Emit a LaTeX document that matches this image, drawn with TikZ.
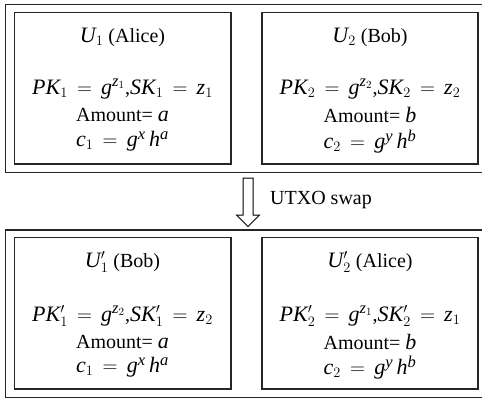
\documentclass[tikz,border=0pt]{standalone}
\usepackage{fontspec}
\setmainfont{Liberation Serif}
\newfontfamily\mathletters[NFSSFamily=mathlib,Scale=1.1]{Liberation Serif}
\DeclareSymbolFont{letters}{TU}{mathlib}{m}{it}
\DeclareSymbolFont{operators}{TU}{\rmdefault}{m}{n}
\DeclareMathSizes{20}{20}{15}{11}
\thickmuskip=8mu plus 2mu
\begin{document}
\begin{tikzpicture}[x=1pt,y=-1pt,
  outerbox/.style={draw=black!85,line width=1.6pt},
  innerbox/.style={draw=black!85,line width=1.3pt},
  txt/.style={inner sep=0pt,font=\fontsize{20}{23}\selectfont}]
\useasboundingbox (0,0) rectangle (482,399);
% top group
\draw[outerbox] (5.5,4.5) rectangle (486,172.5);
\draw[innerbox] (14.5,12.5) rectangle (231,164);
\draw[innerbox] (262,12.5) rectangle (478,164);
\node[txt] (t1) at (122.5,37) {$U_1$ (Alice)};
\node[txt] (p1) at (122.5,89) {$PK_1=g^{z_1}$,$SK_1=z_1$};
\node[txt] (a1) at (122.5,115) {Amount= $a$};
\node[txt] (c1) at (122.5,141.5) {$c_1=g^x\,h^a$};
\node[txt] (t2) at (370,37) {$U_2$ (Bob)};
\node[txt] (p2) at (370,89) {$PK_2=g^{z_2}$,$SK_2=z_2$};
\node[txt] (a2) at (370,115) {Amount= $b$};
\node[txt] (c2) at (370,141.5) {$c_2=g^y\,h^b$};
% arrow
\draw[line width=1pt,line join=miter] (243,178) -- (253,178) -- (253,215) -- (259.5,215) -- (248,226.5) -- (236.5,215) -- (243,215) -- cycle;
\node[txt,anchor=west] (sw) at (270,200) {UTXO swap};
% bottom group
\draw[outerbox] (5.5,230) rectangle (486,397.5);
\draw[innerbox] (14.5,237.5) rectangle (231,389);
\draw[innerbox] (262,237.5) rectangle (478,389);
\node[txt] (t3) at (122.5,262) {$U_1'$ (Bob)};
\node[txt] (p3) at (122.5,316) {$PK_1'=g^{z_2}$,$SK_1'=z_2$};
\node[txt] (a3) at (122.5,342) {Amount= $a$};
\node[txt] (c3) at (122.5,367.5) {$c_1=g^x\,h^a$};
\node[txt] (t4) at (370,262) {$U_2'$ (Alice)};
\node[txt] (p4) at (370,316) {$PK_2'=g^{z_1}$,$SK_2'=z_1$};
\node[txt] (a4) at (370,342) {Amount= $b$};
\node[txt] (c4) at (370,367.5) {$c_2=g^y\,h^b$};
\end{tikzpicture}
\end{document}
